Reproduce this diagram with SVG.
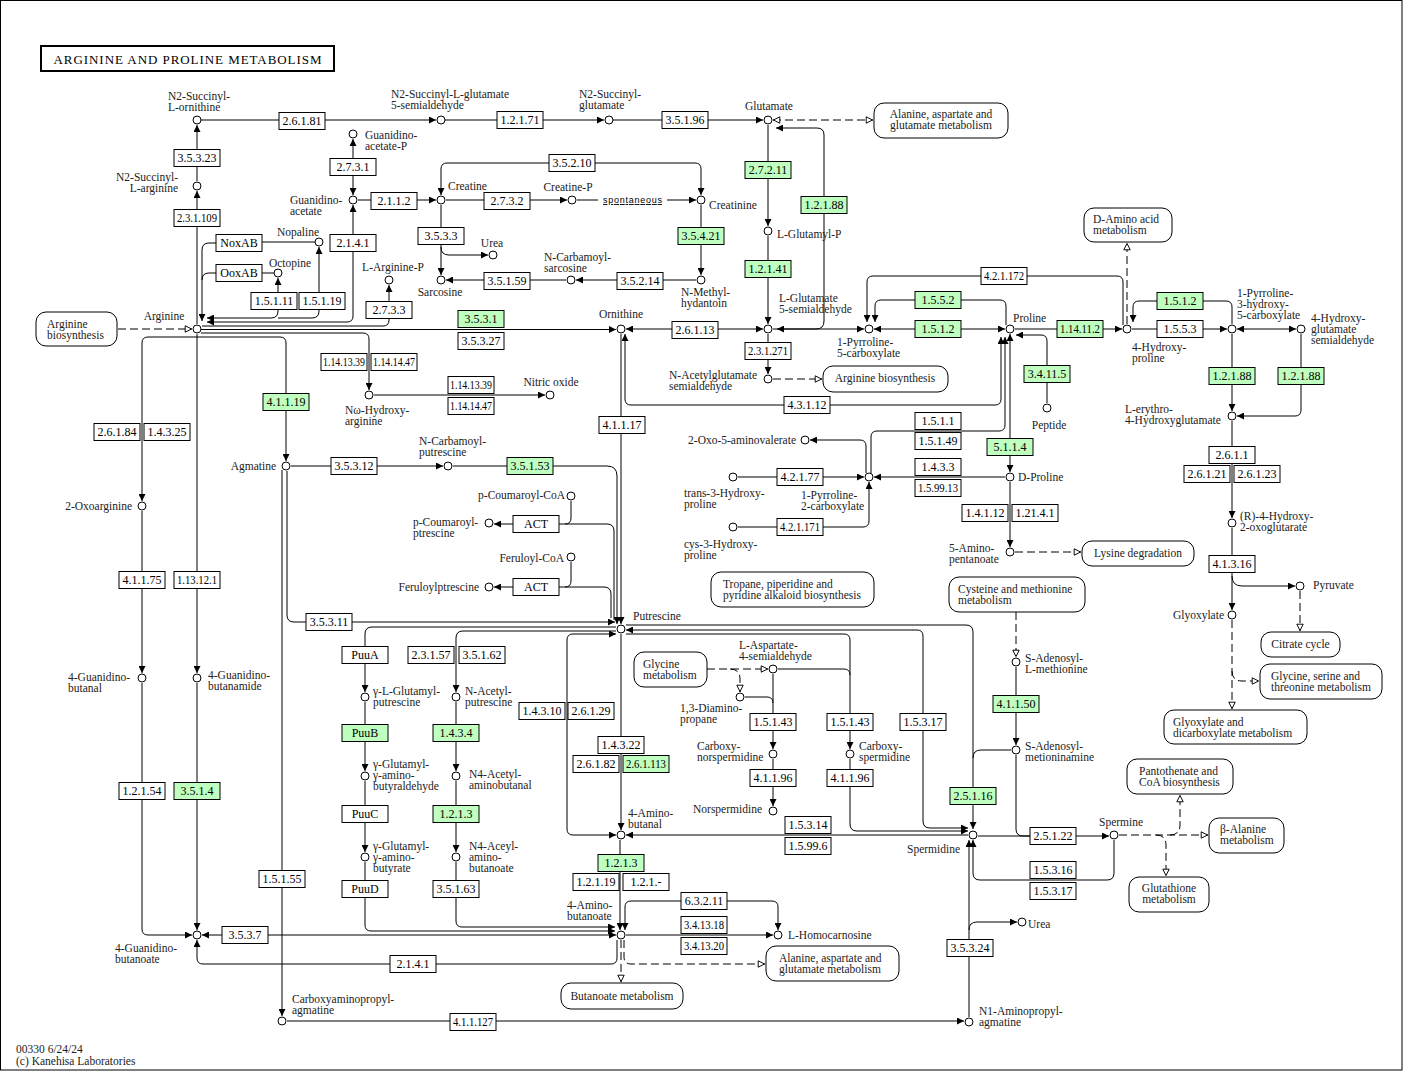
<svg xmlns="http://www.w3.org/2000/svg" width="1408" height="1072" viewBox="0 0 1408 1072">
<defs>
<style>
.l{fill:none;stroke:#000;stroke-width:1}
.d{fill:none;stroke:#000;stroke-width:1;stroke-dasharray:8,4}
.ae{marker-end:url(#ah)}
.as{marker-start:url(#ah)}
.oe{marker-end:url(#oh)}
.os{marker-start:url(#oh)}
.e rect{fill:#fff;stroke:#000;stroke-width:1}
.e.g rect{fill:#bfffbf}
.e text{font-family:"Liberation Serif",serif;font-size:12px;fill:#000;text-anchor:middle}
.c circle{fill:#fff;stroke:#000;stroke-width:1}
.c text{font-family:"Liberation Serif",serif;font-size:11.5px;fill:#222}
.m rect{fill:#fff;stroke:#000;stroke-width:1}
.m text{font-family:"Liberation Serif",serif;font-size:11.5px;fill:#222}
.mid{text-anchor:middle}
.end{text-anchor:end}
</style>
<marker id="ah" viewBox="0 0 10 10" refX="10" refY="5" markerWidth="7" markerHeight="7" markerUnits="userSpaceOnUse" orient="auto-start-reverse"><path d="M0,0L10,5L0,10z" fill="#000"/></marker>
<marker id="oh" viewBox="0 0 10 10" refX="9.5" refY="5" markerWidth="8" markerHeight="8" markerUnits="userSpaceOnUse" orient="auto-start-reverse"><path d="M1,1L9,5L1,9z" fill="#fff" stroke="#000" stroke-width="1.2"/></marker>
</defs>
<rect x="0" y="0" width="1408" height="1072" fill="#fff"/>
<rect x="0.5" y="0.5" width="1401.5" height="1069.5" fill="none" stroke="#000" stroke-width="1"/>
<g id="title"><rect x="41" y="46" width="293" height="25" fill="#fff" stroke="#000" stroke-width="2"/><text x="187.5" y="63.5" font-family="Liberation Serif,serif" font-size="13" text-anchor="middle" textLength="268" lengthAdjust="spacing">ARGININE AND PROLINE METABOLISM</text></g>

<g id="connectors">
<path class="l ae" d="M201,120H436"/>
<path class="l ae" d="M445,120H604"/>
<path class="l ae" d="M613,120H763"/>
<path class="l ae" d="M197,181V125"/>
<path class="l ae" d="M197,324V191"/>
<path class="d os oe" d="M773,120H873"/>
<path class="l as ae" d="M776,128H817Q824,128 824,135V321Q824,329 816,329H777"/>
<path class="l ae" d="M768,125V226"/>
<path class="l ae" d="M768,236V324"/>
<path class="l as ae" d="M626,329H763"/>
<path class="l ae" d="M773,329H864"/>
<path class="l as ae" d="M874,329H1005"/>
<path class="l ae" d="M1006,325V306Q1006,300 1000,300H881Q875,300 875,306V322"/>
<path class="l ae" d="M1123,325V282Q1123,276 1117,276H873Q867,276 867,282V322"/>
<path class="l ae" d="M1015,329H1122"/>
<path class="l ae" d="M1132,329H1227"/>
<path class="l ae" d="M1232,324V307Q1232,301 1226,301H1139Q1133,301 1133,307V322"/>
<path class="d oe" d="M1127,324V243"/>
<path class="l as ae" d="M1237,329H1296"/>
<path class="l ae" d="M1232,334V411"/>
<path class="l ae" d="M1301,334V410Q1301,416 1295,416H1237"/>
<path class="l ae" d="M1232,421V518"/>
<path class="l ae" d="M1232,528V610"/>
<path class="l ae" d="M1232,576Q1232,586 1242,586H1295"/>
<path class="d oe" d="M1300,591V631"/>
<path class="d oe" d="M1232,620V709"/>
<path class="d oe" d="M1232,671Q1232,681 1242,681H1259"/>
<path class="l as ae" d="M353,139V195"/>
<path class="l ae" d="M358,200H436"/>
<path class="l ae" d="M446,200H567"/>
<path class="l" d="M577,200H598"/>
<path class="l ae" d="M667,200H696"/>
<path class="l as ae" d="M441,195V169Q441,163 447,163H695Q701,163 701,169V195"/>
<path class="l ae" d="M701,205V275"/>
<path class="l ae" d="M696,280H576"/>
<path class="l ae" d="M566,280H446"/>
<path class="l ae" d="M441,205V275"/>
<path class="l ae" d="M441,247Q441,255 449,255H488"/>
<path class="l as ae" d="M207,322H347Q353,322 353,316V205"/>
<path class="l ae" d="M202,326H383Q389,326 389,320V285"/>
<path class="l as ae" d="M278,278V311Q278,318 271,318H207"/>
<path class="l as" d="M319,247V311Q319,318 312,318H278"/>
<path class="l" d="M315,242H262"/>
<path class="l ae" d="M216,243H209Q202,243 202,250V321"/>
<path class="l" d="M274,273H262"/>
<path class="l" d="M216,273H209Q202,273 202,280"/>
<path class="l ae" d="M201,329.5H616"/>
<path class="l ae" d="M201,333H363Q369,333 369,339V390"/>
<path class="l ae" d="M374,395H545"/>
<path class="l ae" d="M197,337H280Q286,337 286,343V461"/>
<path class="l ae" d="M197,337H148Q142,337 142,343V501"/>
<path class="l ae" d="M197,334V673"/>
<path class="l ae" d="M142,511V673"/>
<path class="l ae" d="M142,683V929Q142,935 148,935H192"/>
<path class="l ae" d="M197,683V930"/>
<path class="l as ae" d="M202,935H616"/>
<path class="l ae" d="M617,940V958Q617,964 611,964H203Q197,964 197,958V940"/>
<path class="d oe" d="M621,940V982"/>
<path class="d oe" d="M624,940V957Q624,964 631,964H765"/>
<path class="d oe" d="M118,329H192"/>
<path class="l ae" d="M291,466H443"/>
<path class="l ae" d="M453,466H607Q617,466 617,476V624"/>
<path class="l" d="M559,524H607Q614,524 614,531V620"/>
<path class="l" d="M571,501V518Q571,524 565,524"/>
<path class="l ae" d="M513,524H494"/>
<path class="l" d="M559,587H604Q611,587 611,594V618"/>
<path class="l" d="M571,562V581Q571,587 565,587"/>
<path class="l ae" d="M513,587H494"/>
<path class="l ae" d="M287,471V615Q287,622 294,622H615"/>
<path class="l ae" d="M282,470V1016"/>
<path class="l ae" d="M621,334V624"/>
<path class="l as ae" d="M625,334V399Q625,405 631,405H995Q1001,405 1001,399V337"/>
<path class="l ae" d="M871,473V437Q871,431 877,431H999Q1005,431 1005,425V337"/>
<path class="l as ae" d="M1010,334V472"/>
<path class="l ae" d="M1005,477H874"/>
<path class="l ae" d="M738,477H864"/>
<path class="l ae" d="M738,527H863Q869,527 869,521V482"/>
<path class="l ae" d="M866,473V446Q866,440 860,440H810"/>
<path class="l ae" d="M1047,403V341Q1047,335 1041,335H1016"/>
<path class="l ae" d="M1010,482V547"/>
<path class="d oe" d="M1015,552H1081"/>
<path class="d oe" d="M1016,612V657"/>
<path class="l ae" d="M1016,667V745"/>
<path class="l" d="M1011,750H981Q973,750 973,758"/>
<path class="l ae" d="M626,625H966Q973,625 973,632V829"/>
<path class="l as ae" d="M626,630H917Q923,630 923,636V821Q923,828 930,828H968"/>
<path class="l ae" d="M626,634H844Q850,634 850,640V749"/>
<path class="l" d="M778,669H844Q850,669 850,675"/>
<path class="l ae" d="M850,759V824Q850,831 857,831H968"/>
<path class="l ae" d="M773,674V749"/>
<path class="l" d="M745,697H767Q773,697 773,703"/>
<path class="l ae" d="M773,759V806"/>
<path class="d oe" d="M707,669H768"/>
<path class="d oe" d="M730,669Q740,669 740,679V692"/>
<path class="l ae" d="M968,835H626"/>
<path class="l" d="M1016,755V829Q1016,836 1023,836H1030"/>
<path class="l ae" d="M978,836H1109"/>
<path class="l ae" d="M1114,840V873Q1114,880 1107,880H980Q973,880 973,873V840"/>
<path class="l ae" d="M969,1017V840"/>
<path class="l ae" d="M969,930Q969,922 977,922H1017"/>
<path class="l ae" d="M287,1021H964"/>
<path class="d oe" d="M1119,835H1208"/>
<path class="d oe" d="M1170,835Q1180,835 1180,825V795"/>
<path class="d oe" d="M1156,835Q1166,835 1166,845V876"/>
<path class="l ae" d="M616,627H372Q365,627 365,634V692"/>
<path class="l ae" d="M616,631H463Q456,631 456,638V692"/>
<path class="l ae" d="M365,702V771"/>
<path class="l ae" d="M365,781V852"/>
<path class="l ae" d="M365,862V925Q365,931 371,931H615"/>
<path class="l ae" d="M456,702V771"/>
<path class="l ae" d="M456,781V852"/>
<path class="l ae" d="M456,862V921Q456,927 462,927H615"/>
<path class="l ae" d="M620,840V930"/>
<path class="l ae" d="M621,634V830"/>
<path class="l as ae" d="M616,634H573Q567,634 567,640V829Q567,835 573,835H616"/>
<path class="l as ae" d="M625,930V907Q625,901 631,901H772Q778,901 778,907V930"/>
<path class="l ae" d="M626,935H773"/>
<path class="l ae" d="M768,334V374"/>
<path class="d oe" d="M773,379H822"/>
</g>

<g id="maps">
<g id="m-ala1" class="m"><rect x="874" y="103" width="134" height="35" rx="10"/><text x="941" y="117.5" class="mid"><tspan x="941">Alanine, aspartate and</tspan><tspan x="941" dy="11">glutamate metabolism</tspan></text></g>
<g id="m-argbio1" class="m"><rect x="36" y="312" width="81" height="34" rx="10"/><text x="47" y="327.5"><tspan x="47">Arginine</tspan><tspan x="47" dy="11">biosynthesis</tspan></text></g>
<g id="m-damino" class="m"><rect x="1084" y="208" width="88" height="34" rx="10"/><text x="1093" y="222.5"><tspan x="1093">D-Amino acid</tspan><tspan x="1093" dy="11">metabolism</tspan></text></g>
<g id="m-argbio2" class="m"><rect x="823" y="366" width="125" height="26" rx="10"/><text x="885" y="382" class="mid">Arginine biosynthesis</text></g>
<g id="m-tropane" class="m"><rect x="711" y="572" width="163" height="35" rx="10"/><text x="723" y="587.5"><tspan x="723">Tropane, piperidine and</tspan><tspan x="723" dy="11">pyridine alkaloid biosynthesis</tspan></text></g>
<g id="m-lysine" class="m"><rect x="1082" y="541" width="112" height="25" rx="10"/><text x="1138" y="557" class="mid">Lysine degradation</text></g>
<g id="m-cys" class="m"><rect x="949" y="577" width="136" height="35" rx="10"/><text x="958" y="592.5"><tspan x="958">Cysteine and methionine</tspan><tspan x="958" dy="11">metabolism</tspan></text></g>
<g id="m-citrate" class="m"><rect x="1261" y="632" width="79" height="25" rx="10"/><text x="1300.5" y="648" class="mid">Citrate cycle</text></g>
<g id="m-gly" class="m"><rect x="1260" y="664" width="122" height="35" rx="10"/><text x="1271" y="679.5"><tspan x="1271">Glycine, serine and</tspan><tspan x="1271" dy="11">threonine metabolism</tspan></text></g>
<g id="m-glyox" class="m"><rect x="1164" y="710" width="143" height="34" rx="10"/><text x="1173" y="725.5"><tspan x="1173">Glyoxylate and</tspan><tspan x="1173" dy="11">dicarboxylate metabolism</tspan></text></g>
<g id="m-glycine" class="m"><rect x="634" y="652" width="73" height="35" rx="10"/><text x="643" y="667.5"><tspan x="643">Glycine</tspan><tspan x="643" dy="11">metabolism</tspan></text></g>
<g id="m-butanoate" class="m"><rect x="561" y="983" width="122" height="26" rx="10"/><text x="622" y="1000" class="mid">Butanoate metabolism</text></g>
<g id="m-ala2" class="m"><rect x="766" y="946" width="133" height="35" rx="10"/><text x="779" y="961.5"><tspan x="779">Alanine, aspartate and</tspan><tspan x="779" dy="11">glutamate metabolism</tspan></text></g>
<g id="m-panto" class="m"><rect x="1127" y="759" width="106" height="35" rx="10"/><text x="1139" y="774.5"><tspan x="1139">Pantothenate and</tspan><tspan x="1139" dy="11">CoA biosynthesis</tspan></text></g>
<g id="m-bala" class="m"><rect x="1209" y="818" width="75" height="35" rx="10"/><text x="1220" y="832.5"><tspan x="1220">β-Alanine</tspan><tspan x="1220" dy="11">metabolism</tspan></text></g>
<g id="m-gsh" class="m"><rect x="1129" y="877" width="80" height="35" rx="10"/><text x="1169" y="891.5" class="mid"><tspan x="1169">Glutathione</tspan><tspan x="1169" dy="11">metabolism</tspan></text></g>
</g>

<g id="enzymes">
<g id="e1" class="e"><rect x="279" y="112.5" width="46" height="17"/><text x="302" y="125">2.6.1.81</text></g>
<g id="e2" class="e"><rect x="497" y="111.5" width="46" height="17"/><text x="520" y="124">1.2.1.71</text></g>
<g id="e3" class="e"><rect x="662" y="111.5" width="46" height="17"/><text x="685" y="124">3.5.1.96</text></g>
<g id="e4" class="e"><rect x="174" y="149.5" width="46" height="17"/><text x="197" y="162">3.5.3.23</text></g>
<g id="e5" class="e"><rect x="174" y="209.5" width="46" height="17"/><text x="197" y="222" textLength="40" lengthAdjust="spacingAndGlyphs">2.3.1.109</text></g>
<g id="e6" class="e"><rect x="330" y="158.5" width="46" height="17"/><text x="353" y="171">2.7.3.1</text></g>
<g id="e7" class="e"><rect x="371" y="192.5" width="46" height="17"/><text x="394" y="205">2.1.1.2</text></g>
<g id="e8" class="e"><rect x="484" y="192.5" width="46" height="17"/><text x="507" y="205">2.7.3.2</text></g>
<g id="e9" class="e"><rect x="549" y="154.5" width="46" height="17"/><text x="572" y="167">3.5.2.10</text></g>
<g id="e10" class="e"><rect x="418" y="227.5" width="46" height="17"/><text x="441" y="240">3.5.3.3</text></g>
<g id="e11" class="e g"><rect x="678" y="227.5" width="46" height="17"/><text x="701" y="240">3.5.4.21</text></g>
<g id="e12" class="e"><rect x="484" y="272.5" width="46" height="17"/><text x="507" y="285">3.5.1.59</text></g>
<g id="e13" class="e"><rect x="617" y="272.5" width="46" height="17"/><text x="640" y="285">3.5.2.14</text></g>
<g id="e14" class="e"><rect x="366" y="301.5" width="46" height="17"/><text x="389" y="314">2.7.3.3</text></g>
<g id="e15" class="e"><rect x="330" y="234.5" width="46" height="17"/><text x="353" y="247">2.1.4.1</text></g>
<g id="e16" class="e"><rect x="216" y="234.5" width="46" height="17"/><text x="239" y="247">NoxAB</text></g>
<g id="e17" class="e"><rect x="216" y="264.5" width="46" height="17"/><text x="239" y="277">OoxAB</text></g>
<g id="e18" class="e"><rect x="251" y="292.5" width="46" height="17"/><text x="274" y="305">1.5.1.11</text></g>
<g id="e19" class="e"><rect x="299" y="292.5" width="46" height="17"/><text x="322" y="305">1.5.1.19</text></g>
<g id="e20" class="e g"><rect x="458" y="310.5" width="46" height="17"/><text x="481" y="323">3.5.3.1</text></g>
<g id="e21" class="e"><rect x="458" y="332.5" width="46" height="17"/><text x="481" y="345">3.5.3.27</text></g>
<g id="e22" class="e g"><rect x="745" y="161.5" width="46" height="17"/><text x="768" y="174">2.7.2.11</text></g>
<g id="e23" class="e g"><rect x="801" y="196.5" width="46" height="17"/><text x="824" y="209">1.2.1.88</text></g>
<g id="e24" class="e g"><rect x="745" y="260.5" width="46" height="17"/><text x="768" y="273">1.2.1.41</text></g>
<g id="e25" class="e"><rect x="672" y="321.5" width="46" height="17"/><text x="695" y="334">2.6.1.13</text></g>
<g id="e26" class="e"><rect x="745" y="342.5" width="46" height="17"/><text x="768" y="355" textLength="40" lengthAdjust="spacingAndGlyphs">2.3.1.271</text></g>
<g id="e27" class="e"><rect x="981" y="267.5" width="46" height="17"/><text x="1004" y="280" textLength="40" lengthAdjust="spacingAndGlyphs">4.2.1.172</text></g>
<g id="e28" class="e g"><rect x="915" y="291.5" width="46" height="17"/><text x="938" y="304">1.5.5.2</text></g>
<g id="e29" class="e g"><rect x="915" y="320.5" width="46" height="17"/><text x="938" y="333">1.5.1.2</text></g>
<g id="e30" class="e g"><rect x="1057" y="320.5" width="46" height="17"/><text x="1080" y="333" textLength="40" lengthAdjust="spacingAndGlyphs">1.14.11.2</text></g>
<g id="e31" class="e g"><rect x="1157" y="292.5" width="46" height="17"/><text x="1180" y="305">1.5.1.2</text></g>
<g id="e32" class="e"><rect x="1157" y="320.5" width="46" height="17"/><text x="1180" y="333">1.5.5.3</text></g>
<g id="e33" class="e g"><rect x="1209" y="367.5" width="46" height="17"/><text x="1232" y="380">1.2.1.88</text></g>
<g id="e34" class="e g"><rect x="1278" y="367.5" width="46" height="17"/><text x="1301" y="380">1.2.1.88</text></g>
<g id="e35" class="e"><rect x="1209" y="446.5" width="46" height="17"/><text x="1232" y="459">2.6.1.1</text></g>
<g id="e36" class="e"><rect x="1184" y="465.5" width="46" height="17"/><text x="1207" y="478">2.6.1.21</text></g>
<g id="e37" class="e"><rect x="1234" y="465.5" width="46" height="17"/><text x="1257" y="478">2.6.1.23</text></g>
<g id="e38" class="e"><rect x="1209" y="555.5" width="46" height="17"/><text x="1232" y="568">4.1.3.16</text></g>
<g id="e39" class="e"><rect x="321" y="353.5" width="46" height="17"/><text x="344" y="366" textLength="42" lengthAdjust="spacingAndGlyphs">1.14.13.39</text></g>
<g id="e40" class="e"><rect x="371" y="353.5" width="46" height="17"/><text x="394" y="366" textLength="42" lengthAdjust="spacingAndGlyphs">1.14.14.47</text></g>
<g id="e41" class="e"><rect x="448" y="376.5" width="46" height="17"/><text x="471" y="389" textLength="42" lengthAdjust="spacingAndGlyphs">1.14.13.39</text></g>
<g id="e42" class="e"><rect x="448" y="397.5" width="46" height="17"/><text x="471" y="410" textLength="42" lengthAdjust="spacingAndGlyphs">1.14.14.47</text></g>
<g id="e43" class="e g"><rect x="263" y="393.5" width="46" height="17"/><text x="286" y="406">4.1.1.19</text></g>
<g id="e44" class="e"><rect x="94" y="423.5" width="46" height="17"/><text x="117" y="436">2.6.1.84</text></g>
<g id="e45" class="e"><rect x="144" y="423.5" width="46" height="17"/><text x="167" y="436">1.4.3.25</text></g>
<g id="e46" class="e"><rect x="119" y="571.5" width="46" height="17"/><text x="142" y="584">4.1.1.75</text></g>
<g id="e47" class="e"><rect x="174" y="571.5" width="46" height="17"/><text x="197" y="584" textLength="40" lengthAdjust="spacingAndGlyphs">1.13.12.1</text></g>
<g id="e48" class="e"><rect x="331" y="457.5" width="46" height="17"/><text x="354" y="470">3.5.3.12</text></g>
<g id="e49" class="e g"><rect x="507" y="457.5" width="46" height="17"/><text x="530" y="470">3.5.1.53</text></g>
<g id="e50" class="e"><rect x="599" y="416.5" width="46" height="17"/><text x="622" y="429">4.1.1.17</text></g>
<g id="e51" class="e"><rect x="784" y="396.5" width="46" height="17"/><text x="807" y="409">4.3.1.12</text></g>
<g id="e52" class="e"><rect x="513" y="515.5" width="46" height="17"/><text x="536" y="528">ACT</text></g>
<g id="e53" class="e"><rect x="513" y="578.5" width="46" height="17"/><text x="536" y="591">ACT</text></g>
<g id="e54" class="e"><rect x="306" y="613.5" width="46" height="17"/><text x="329" y="626">3.5.3.11</text></g>
<g id="e55" class="e"><rect x="915" y="412.5" width="46" height="17"/><text x="938" y="425">1.5.1.1</text></g>
<g id="e56" class="e"><rect x="915" y="432.5" width="46" height="17"/><text x="938" y="445">1.5.1.49</text></g>
<g id="e57" class="e"><rect x="915" y="458.5" width="46" height="17"/><text x="938" y="471">1.4.3.3</text></g>
<g id="e58" class="e"><rect x="915" y="479.5" width="46" height="17"/><text x="938" y="492" textLength="40" lengthAdjust="spacingAndGlyphs">1.5.99.13</text></g>
<g id="e59" class="e"><rect x="777" y="468.5" width="46" height="17"/><text x="800" y="481">4.2.1.77</text></g>
<g id="e60" class="e"><rect x="777" y="518.5" width="46" height="17"/><text x="800" y="531" textLength="40" lengthAdjust="spacingAndGlyphs">4.2.1.171</text></g>
<g id="e61" class="e g"><rect x="1024" y="365.5" width="46" height="17"/><text x="1047" y="378">3.4.11.5</text></g>
<g id="e62" class="e g"><rect x="987" y="438.5" width="46" height="17"/><text x="1010" y="451">5.1.1.4</text></g>
<g id="e63" class="e"><rect x="962" y="504.5" width="46" height="17"/><text x="985" y="517">1.4.1.12</text></g>
<g id="e64" class="e"><rect x="1012" y="504.5" width="46" height="17"/><text x="1035" y="517">1.21.4.1</text></g>
<g id="e65" class="e"><rect x="342" y="646.5" width="46" height="17"/><text x="365" y="659">PuuA</text></g>
<g id="e66" class="e"><rect x="408" y="646.5" width="46" height="17"/><text x="431" y="659">2.3.1.57</text></g>
<g id="e67" class="e"><rect x="459" y="646.5" width="46" height="17"/><text x="482" y="659">3.5.1.62</text></g>
<g id="e68" class="e g"><rect x="342" y="724.5" width="46" height="17"/><text x="365" y="737">PuuB</text></g>
<g id="e69" class="e g"><rect x="433" y="724.5" width="46" height="17"/><text x="456" y="737">1.4.3.4</text></g>
<g id="e70" class="e"><rect x="342" y="805.5" width="46" height="17"/><text x="365" y="818">PuuC</text></g>
<g id="e71" class="e g"><rect x="433" y="805.5" width="46" height="17"/><text x="456" y="818">1.2.1.3</text></g>
<g id="e72" class="e"><rect x="342" y="880.5" width="46" height="17"/><text x="365" y="893">PuuD</text></g>
<g id="e73" class="e"><rect x="433" y="880.5" width="46" height="17"/><text x="456" y="893">3.5.1.63</text></g>
<g id="e74" class="e"><rect x="519" y="702.5" width="46" height="17"/><text x="542" y="715">1.4.3.10</text></g>
<g id="e75" class="e"><rect x="568" y="702.5" width="46" height="17"/><text x="591" y="715">2.6.1.29</text></g>
<g id="e76" class="e"><rect x="598" y="736.5" width="46" height="17"/><text x="621" y="749">1.4.3.22</text></g>
<g id="e77" class="e"><rect x="573" y="755.5" width="46" height="17"/><text x="596" y="768">2.6.1.82</text></g>
<g id="e78" class="e g"><rect x="623" y="755.5" width="46" height="17"/><text x="646" y="768" textLength="40" lengthAdjust="spacingAndGlyphs">2.6.1.113</text></g>
<g id="e79" class="e g"><rect x="598" y="854.5" width="46" height="17"/><text x="621" y="867">1.2.1.3</text></g>
<g id="e80" class="e"><rect x="573" y="873.5" width="46" height="17"/><text x="596" y="886">1.2.1.19</text></g>
<g id="e81" class="e"><rect x="623" y="873.5" width="46" height="17"/><text x="646" y="886">1.2.1.-</text></g>
<g id="e82" class="e"><rect x="681" y="892.5" width="46" height="17"/><text x="704" y="905">6.3.2.11</text></g>
<g id="e83" class="e"><rect x="681" y="916.5" width="46" height="17"/><text x="704" y="929" textLength="40" lengthAdjust="spacingAndGlyphs">3.4.13.18</text></g>
<g id="e84" class="e"><rect x="681" y="937.5" width="46" height="17"/><text x="704" y="950" textLength="40" lengthAdjust="spacingAndGlyphs">3.4.13.20</text></g>
<g id="e85" class="e"><rect x="390" y="955.5" width="46" height="17"/><text x="413" y="968">2.1.4.1</text></g>
<g id="e86" class="e"><rect x="450" y="1013.5" width="46" height="17"/><text x="473" y="1026" textLength="40" lengthAdjust="spacingAndGlyphs">4.1.1.127</text></g>
<g id="e87" class="e"><rect x="222" y="926.5" width="46" height="17"/><text x="245" y="939">3.5.3.7</text></g>
<g id="e88" class="e"><rect x="119" y="782.5" width="46" height="17"/><text x="142" y="795">1.2.1.54</text></g>
<g id="e89" class="e g"><rect x="174" y="782.5" width="46" height="17"/><text x="197" y="795">3.5.1.4</text></g>
<g id="e90" class="e"><rect x="259" y="870.5" width="46" height="17"/><text x="282" y="883">1.5.1.55</text></g>
<g id="e91" class="e"><rect x="750" y="713.5" width="46" height="17"/><text x="773" y="726">1.5.1.43</text></g>
<g id="e92" class="e"><rect x="827" y="713.5" width="46" height="17"/><text x="850" y="726">1.5.1.43</text></g>
<g id="e93" class="e"><rect x="900" y="713.5" width="46" height="17"/><text x="923" y="726">1.5.3.17</text></g>
<g id="e94" class="e"><rect x="750" y="769.5" width="46" height="17"/><text x="773" y="782">4.1.1.96</text></g>
<g id="e95" class="e"><rect x="827" y="769.5" width="46" height="17"/><text x="850" y="782">4.1.1.96</text></g>
<g id="e96" class="e"><rect x="785" y="816.5" width="46" height="17"/><text x="808" y="829">1.5.3.14</text></g>
<g id="e97" class="e"><rect x="785" y="837.5" width="46" height="17"/><text x="808" y="850">1.5.99.6</text></g>
<g id="e98" class="e g"><rect x="950" y="787.5" width="46" height="17"/><text x="973" y="800">2.5.1.16</text></g>
<g id="e99" class="e g"><rect x="993" y="695.5" width="46" height="17"/><text x="1016" y="708">4.1.1.50</text></g>
<g id="e100" class="e"><rect x="947" y="939.5" width="46" height="17"/><text x="970" y="952">3.5.3.24</text></g>
<g id="e101" class="e"><rect x="1030" y="827.5" width="46" height="17"/><text x="1053" y="840">2.5.1.22</text></g>
<g id="e102" class="e"><rect x="1030" y="861.5" width="46" height="17"/><text x="1053" y="874">1.5.3.16</text></g>
<g id="e103" class="e"><rect x="1030" y="882.5" width="46" height="17"/><text x="1053" y="895">1.5.3.17</text></g>
</g>

<g id="compounds">
<g id="c1" class="c"><circle cx="197" cy="120" r="4"/><text x="168" y="99.5"><tspan x="168">N2-Succinyl-</tspan><tspan x="168" dy="11">L-ornithine</tspan></text></g>
<g id="c2" class="c"><circle cx="197" cy="186" r="4"/><text x="178" y="180.5" class="end"><tspan x="178">N2-Succinyl-</tspan><tspan x="178" dy="11">L-arginine</tspan></text></g>
<g id="c3" class="c"><circle cx="197" cy="329" r="4"/><text x="164" y="320" class="mid">Arginine</text></g>
<g id="c4" class="c"><circle cx="441" cy="120" r="4"/><text x="391" y="97.5"><tspan x="391">N2-Succinyl-L-glutamate</tspan><tspan x="391" dy="11">5-semialdehyde</tspan></text></g>
<g id="c5" class="c"><circle cx="609" cy="120" r="4"/><text x="579" y="97.5"><tspan x="579">N2-Succinyl-</tspan><tspan x="579" dy="11">glutamate</tspan></text></g>
<g id="c6" class="c"><circle cx="768" cy="120" r="4"/><text x="769" y="110" class="mid">Glutamate</text></g>
<g id="c7" class="c"><circle cx="353" cy="134" r="4"/><text x="365" y="138.5"><tspan x="365">Guanidino-</tspan><tspan x="365" dy="11">acetate-P</tspan></text></g>
<g id="c8" class="c"><circle cx="353" cy="200" r="4"/><text x="290" y="203.5"><tspan x="290">Guanidino-</tspan><tspan x="290" dy="11">acetate</tspan></text></g>
<g id="c9" class="c"><circle cx="441" cy="200" r="4"/><text x="448" y="190">Creatine</text></g>
<g id="c10" class="c"><circle cx="572" cy="200" r="4"/><text x="568" y="191" class="mid">Creatine-P</text></g>
<text x="632.5" y="203" font-family="Liberation Sans,sans-serif" font-size="9" text-anchor="middle" text-decoration="underline" textLength="59" lengthAdjust="spacing">spontaneous</text>
<g id="c11" class="c"><circle cx="701" cy="200" r="4"/><text x="709" y="209">Creatinine</text></g>
<g id="c12" class="c"><circle cx="701" cy="280" r="4"/><text x="681" y="295.5"><tspan x="681">N-Methyl-</tspan><tspan x="681" dy="11">hydantoin</tspan></text></g>
<g id="c13" class="c"><circle cx="571" cy="280" r="4"/><text x="544" y="260.5"><tspan x="544">N-Carbamoyl-</tspan><tspan x="544" dy="11">sarcosine</tspan></text></g>
<g id="c14" class="c"><circle cx="441" cy="280" r="4"/><text x="440" y="296" class="mid">Sarcosine</text></g>
<g id="c15" class="c"><circle cx="493" cy="255" r="4"/><text x="492" y="247" class="mid">Urea</text></g>
<g id="c16" class="c"><circle cx="389" cy="280" r="4"/><text x="393" y="271" class="mid">L-Arginine-P</text></g>
<g id="c17" class="c"><circle cx="319" cy="242" r="4"/><text x="298" y="236" class="mid">Nopaline</text></g>
<g id="c18" class="c"><circle cx="278" cy="273" r="4"/><text x="290" y="267" class="mid">Octopine</text></g>
<g id="c19" class="c"><circle cx="621" cy="329" r="4"/><text x="621" y="318" class="mid">Ornithine</text></g>
<g id="c20" class="c"><circle cx="768" cy="231" r="4"/><text x="777" y="238">L-Glutamyl-P</text></g>
<g id="c21" class="c"><circle cx="768" cy="329" r="4"/><text x="779" y="301.5"><tspan x="779">L-Glutamate</tspan><tspan x="779" dy="11">5-semialdehyde</tspan></text></g>
<g id="c22" class="c"><circle cx="869" cy="329" r="4"/><text x="837" y="345.5"><tspan x="837">1-Pyrroline-</tspan><tspan x="837" dy="11">5-carboxylate</tspan></text></g>
<g id="c23" class="c"><circle cx="1010" cy="329" r="4"/><text x="1013" y="322">Proline</text></g>
<g id="c24" class="c"><circle cx="1127" cy="329" r="4"/><text x="1132" y="350.5"><tspan x="1132">4-Hydroxy-</tspan><tspan x="1132" dy="11">proline</tspan></text></g>
<g id="c25" class="c"><circle cx="1232" cy="329" r="4"/><text x="1237" y="296.5"><tspan x="1237">1-Pyrroline-</tspan><tspan x="1237" dy="11">3-hydroxy-</tspan><tspan x="1237" dy="11">5-carboxylate</tspan></text></g>
<g id="c26" class="c"><circle cx="1301" cy="329" r="4"/><text x="1311" y="321.5"><tspan x="1311">4-Hydroxy-</tspan><tspan x="1311" dy="11">glutamate</tspan><tspan x="1311" dy="11">semialdehyde</tspan></text></g>
<g id="c27" class="c"><circle cx="1232" cy="416" r="4"/><text x="1125" y="412.5"><tspan x="1125">L-erythro-</tspan><tspan x="1125" dy="11">4-Hydroxyglutamate</tspan></text></g>
<g id="c28" class="c"><circle cx="1047" cy="408" r="4"/><text x="1049" y="429" class="mid">Peptide</text></g>
<g id="c29" class="c"><circle cx="768" cy="379" r="4"/><text x="669" y="378.5"><tspan x="669">N-Acetylglutamate</tspan><tspan x="669" dy="11">semialdehyde</tspan></text></g>
<g id="c30" class="c"><circle cx="550" cy="395" r="4"/><text x="551" y="386" class="mid">Nitric oxide</text></g>
<g id="c31" class="c"><circle cx="369" cy="395" r="4"/><text x="345" y="413.5"><tspan x="345">Nω-Hydroxy-</tspan><tspan x="345" dy="11">arginine</tspan></text></g>
<g id="c32" class="c"><circle cx="286" cy="466" r="4"/><text x="276" y="470" class="end">Agmatine</text></g>
<g id="c33" class="c"><circle cx="142" cy="506" r="4"/><text x="132" y="510" class="end">2-Oxoarginine</text></g>
<g id="c34" class="c"><circle cx="448" cy="466" r="4"/><text x="419" y="444.5"><tspan x="419">N-Carbamoyl-</tspan><tspan x="419" dy="11">putrescine</tspan></text></g>
<g id="c35" class="c"><circle cx="571" cy="496" r="4"/><text x="565" y="499" class="end">p-Coumaroyl-CoA</text></g>
<g id="c36" class="c"><circle cx="489" cy="523" r="4"/><text x="413" y="525.5"><tspan x="413">p-Coumaroyl-</tspan><tspan x="413" dy="11">ptrescine</tspan></text></g>
<g id="c37" class="c"><circle cx="571" cy="557" r="4"/><text x="564" y="562" class="end">Feruloyl-CoA</text></g>
<g id="c38" class="c"><circle cx="489" cy="587" r="4"/><text x="479" y="591" class="end">Feruloylptrescine</text></g>
<g id="c39" class="c"><circle cx="621" cy="629" r="4"/><text x="633" y="620">Putrescine</text></g>
<g id="c40" class="c"><circle cx="805" cy="440" r="4"/><text x="796" y="444" class="end">2-Oxo-5-aminovalerate</text></g>
<g id="c41" class="c"><circle cx="869" cy="477" r="4"/><text x="801" y="498.5"><tspan x="801">1-Pyrroline-</tspan><tspan x="801" dy="11">2-carboxylate</tspan></text></g>
<g id="c42" class="c"><circle cx="733" cy="477" r="4"/><text x="684" y="496.5"><tspan x="684">trans-3-Hydroxy-</tspan><tspan x="684" dy="11">proline</tspan></text></g>
<g id="c43" class="c"><circle cx="733" cy="527" r="4"/><text x="684" y="547.5"><tspan x="684">cys-3-Hydroxy-</tspan><tspan x="684" dy="11">proline</tspan></text></g>
<g id="c44" class="c"><circle cx="1010" cy="477" r="4"/><text x="1018" y="481">D-Proline</text></g>
<g id="c45" class="c"><circle cx="1010" cy="552" r="4"/><text x="949" y="551.5"><tspan x="949">5-Amino-</tspan><tspan x="949" dy="11">pentanoate</tspan></text></g>
<g id="c46" class="c"><circle cx="1232" cy="523" r="4"/><text x="1240" y="520"><tspan x="1240">(R)-4-Hydroxy-</tspan><tspan x="1240" dy="11">2-oxoglutarate</tspan></text></g>
<g id="c47" class="c"><circle cx="1300" cy="586" r="4"/><text x="1313" y="589">Pyruvate</text></g>
<g id="c48" class="c"><circle cx="1232" cy="615" r="4"/><text x="1224" y="619" class="end">Glyoxylate</text></g>
<g id="c49" class="c"><circle cx="1016" cy="662" r="4"/><text x="1025" y="661.5"><tspan x="1025">S-Adenosyl-</tspan><tspan x="1025" dy="11">L-methionine</tspan></text></g>
<g id="c50" class="c"><circle cx="1016" cy="750" r="4"/><text x="1025" y="749.5"><tspan x="1025">S-Adenosyl-</tspan><tspan x="1025" dy="11">metioninamine</tspan></text></g>
<g id="c51" class="c"><circle cx="973" cy="835" r="4"/><text x="907" y="853">Spermidine</text></g>
<g id="c52" class="c"><circle cx="1114" cy="835" r="4"/><text x="1099" y="826">Spermine</text></g>
<g id="c53" class="c"><circle cx="1022" cy="922" r="4"/><text x="1028" y="928">Urea</text></g>
<g id="c54" class="c"><circle cx="969" cy="1022" r="4"/><text x="979" y="1014.5"><tspan x="979">N1-Aminopropyl-</tspan><tspan x="979" dy="11">agmatine</tspan></text></g>
<g id="c55" class="c"><circle cx="773" cy="669" r="4"/><text x="739" y="648.5"><tspan x="739">L-Aspartate-</tspan><tspan x="739" dy="11">4-semialdehyde</tspan></text></g>
<g id="c56" class="c"><circle cx="740" cy="697" r="4"/><text x="680" y="711.5"><tspan x="680">1,3-Diamino-</tspan><tspan x="680" dy="11">propane</tspan></text></g>
<g id="c57" class="c"><circle cx="773" cy="754" r="4"/><text x="697" y="750"><tspan x="697">Carboxy-</tspan><tspan x="697" dy="11">norspermidine</tspan></text></g>
<g id="c58" class="c"><circle cx="773" cy="811" r="4"/><text x="693" y="813">Norspermidine</text></g>
<g id="c59" class="c"><circle cx="850" cy="754" r="4"/><text x="859" y="749.5"><tspan x="859">Carboxy-</tspan><tspan x="859" dy="11">spermidine</tspan></text></g>
<g id="c60" class="c"><circle cx="778" cy="935" r="4"/><text x="788" y="939">L-Homocarnosine</text></g>
<g id="c61" class="c"><circle cx="621" cy="835" r="4"/><text x="628" y="816.5"><tspan x="628">4-Amino-</tspan><tspan x="628" dy="11">butanal</tspan></text></g>
<g id="c62" class="c"><circle cx="621" cy="935" r="4"/><text x="567" y="908.5"><tspan x="567">4-Amino-</tspan><tspan x="567" dy="11">butanoate</tspan></text></g>
<g id="c63" class="c"><circle cx="365" cy="697" r="4"/><text x="373" y="694.5"><tspan x="373">γ-L-Glutamyl-</tspan><tspan x="373" dy="11">putrescine</tspan></text></g>
<g id="c64" class="c"><circle cx="365" cy="776" r="4"/><text x="373" y="767.5"><tspan x="373">γ-Glutamyl-</tspan><tspan x="373" dy="11">γ-amino-</tspan><tspan x="373" dy="11">butyraldehyde</tspan></text></g>
<g id="c65" class="c"><circle cx="365" cy="857" r="4"/><text x="373" y="849.5"><tspan x="373">γ-Glutamyl-</tspan><tspan x="373" dy="11">γ-amino-</tspan><tspan x="373" dy="11">butyrate</tspan></text></g>
<g id="c66" class="c"><circle cx="456" cy="697" r="4"/><text x="465" y="694.5"><tspan x="465">N-Acetyl-</tspan><tspan x="465" dy="11">putrescine</tspan></text></g>
<g id="c67" class="c"><circle cx="456" cy="776" r="4"/><text x="469" y="777.5"><tspan x="469">N4-Acetyl-</tspan><tspan x="469" dy="11">aminobutanal</tspan></text></g>
<g id="c68" class="c"><circle cx="456" cy="857" r="4"/><text x="469" y="849.5"><tspan x="469">N4-Aceyl-</tspan><tspan x="469" dy="11">amino-</tspan><tspan x="469" dy="11">butanoate</tspan></text></g>
<g id="c69" class="c"><circle cx="142" cy="678" r="4"/><text x="68" y="680.5"><tspan x="68">4-Guanidino-</tspan><tspan x="68" dy="11">butanal</tspan></text></g>
<g id="c70" class="c"><circle cx="197" cy="678" r="4"/><text x="208" y="678.5"><tspan x="208">4-Guanidino-</tspan><tspan x="208" dy="11">butanamide</tspan></text></g>
<g id="c71" class="c"><circle cx="197" cy="935" r="4"/><text x="115" y="951.5"><tspan x="115">4-Guanidino-</tspan><tspan x="115" dy="11">butanoate</tspan></text></g>
<g id="c72" class="c"><circle cx="282" cy="1021" r="4"/><text x="292" y="1002.5"><tspan x="292">Carboxyaminopropyl-</tspan><tspan x="292" dy="11">agmatine</tspan></text></g>
</g>
<text x="16" y="1053" font-family="Liberation Serif,serif" font-size="11.5" fill="#222"><tspan x="16">00330 6/24/24</tspan><tspan x="16" dy="11.5">(c) Kanehisa Laboratories</tspan></text>
</svg>
